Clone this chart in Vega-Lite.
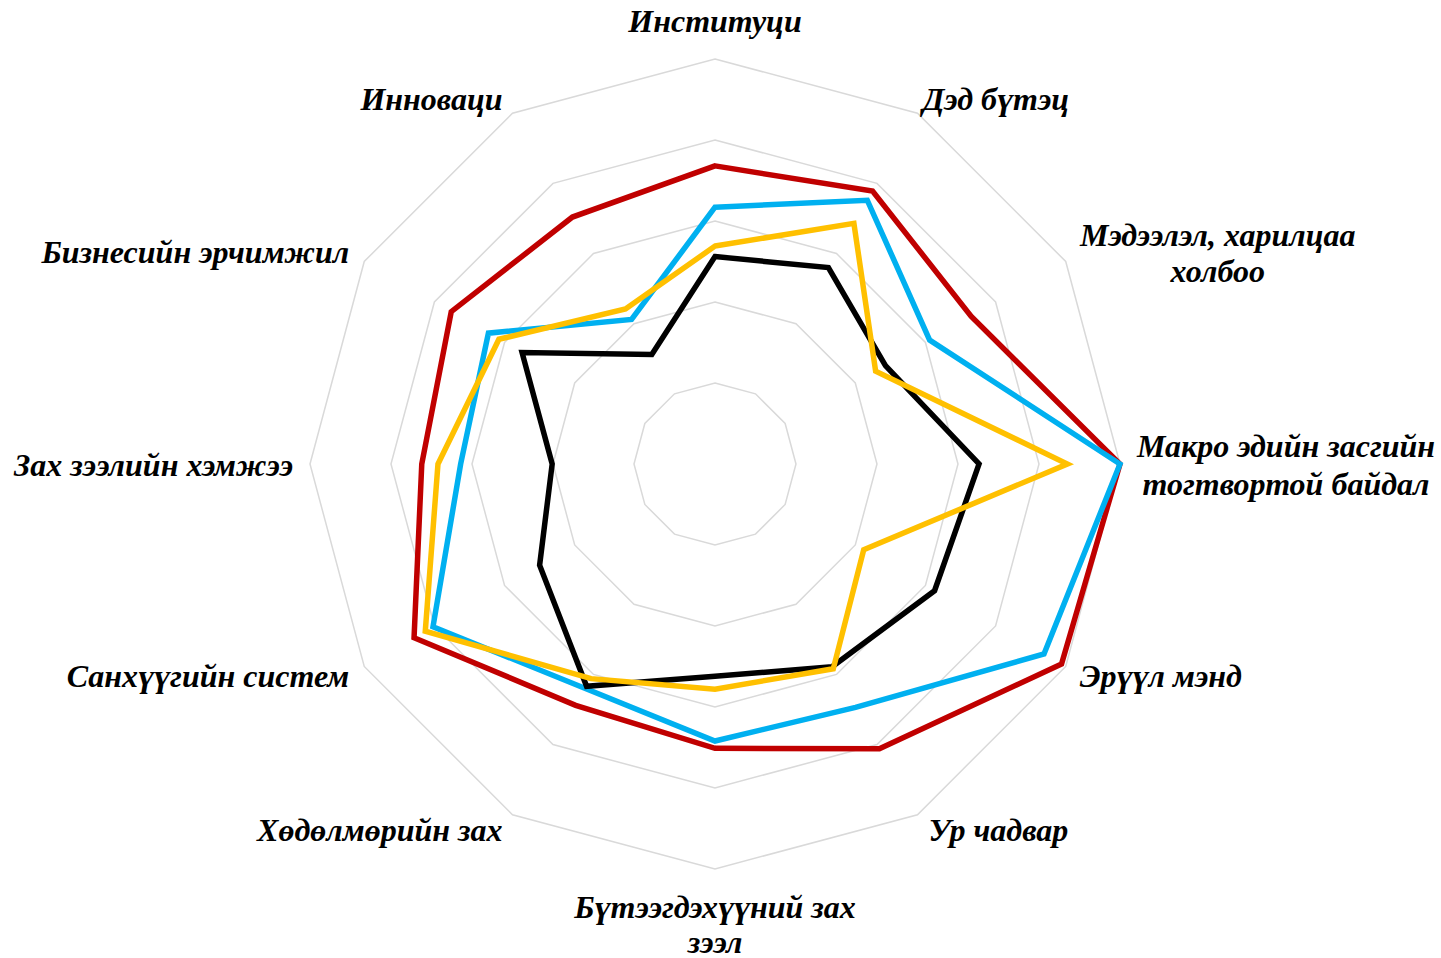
{
  "$schema": "https://vega.github.io/schema/vega-lite/v6.json",
  "width": 1441,
  "height": 958,
  "autosize": "none",
  "padding": 0,
  "background": "white",
  "config": {"view": {"stroke": null}},
  "datasets": {
    "axes": [
      {"k": 0, "name": "Институци", "label": ["Институци"], "rings": [1, 2, 3, 4, 5]},
      {"k": 1, "name": "Дэд бүтэц", "label": ["Дэд бүтэц"], "rings": [1, 2, 3, 4, 5]},
      {"k": 2, "name": "Мэдээлэл, харилцаа холбоо", "label": ["Мэдээлэл, харилцаа", "холбоо"], "rings": [1, 2, 3, 4, 5]},
      {"k": 3, "name": "Макро эдийн засгийн тогтвортой байдал", "label": ["Макро эдийн засгийн", "тогтвортой байдал"], "rings": [1, 2, 3, 4, 5]},
      {"k": 4, "name": "Эрүүл мэнд", "label": ["Эрүүл мэнд"], "rings": [1, 2, 3, 4, 5]},
      {"k": 5, "name": "Ур чадвар", "label": ["Ур чадвар"], "rings": [1, 2, 3, 4, 5]},
      {"k": 6, "name": "Бүтээгдэхүүний зах зээл", "label": ["Бүтээгдэхүүний зах", "зээл"], "rings": [1, 2, 3, 4, 5]},
      {"k": 7, "name": "Хөдөлмөрийн зах", "label": ["Хөдөлмөрийн зах"], "rings": [1, 2, 3, 4, 5]},
      {"k": 8, "name": "Санхүүгийн систем", "label": ["Санхүүгийн систем"], "rings": [1, 2, 3, 4, 5]},
      {"k": 9, "name": "Зах зээлийн хэмжээ", "label": ["Зах зээлийн хэмжээ"], "rings": [1, 2, 3, 4, 5]},
      {"k": 10, "name": "Бизнесийн эрчимжил", "label": ["Бизнесийн эрчимжил"], "rings": [1, 2, 3, 4, 5]},
      {"k": 11, "name": "Инноваци", "label": ["Инноваци"], "rings": [1, 2, 3, 4, 5]}
    ],
    "scores": [
      {"series": "Цуврал 1", "k": 0, "value": 3.68},
      {"series": "Цуврал 1", "k": 1, "value": 3.89},
      {"series": "Цуврал 1", "k": 2, "value": 3.65},
      {"series": "Цуврал 1", "k": 3, "value": 5.0},
      {"series": "Цуврал 1", "k": 4, "value": 4.94},
      {"series": "Цуврал 1", "k": 5, "value": 4.06},
      {"series": "Цуврал 1", "k": 6, "value": 3.51},
      {"series": "Цуврал 1", "k": 7, "value": 3.44},
      {"series": "Цуврал 1", "k": 8, "value": 4.29},
      {"series": "Цуврал 1", "k": 9, "value": 3.62},
      {"series": "Цуврал 1", "k": 10, "value": 3.76},
      {"series": "Цуврал 1", "k": 11, "value": 3.52},
      {"series": "Цуврал 2", "k": 0, "value": 3.17},
      {"series": "Цуврал 2", "k": 1, "value": 3.76},
      {"series": "Цуврал 2", "k": 2, "value": 3.06},
      {"series": "Цуврал 2", "k": 3, "value": 5.0},
      {"series": "Цуврал 2", "k": 4, "value": 4.69},
      {"series": "Цуврал 2", "k": 5, "value": 3.47},
      {"series": "Цуврал 2", "k": 6, "value": 3.42},
      {"series": "Цуврал 2", "k": 7, "value": 3.2},
      {"series": "Цуврал 2", "k": 8, "value": 4.02},
      {"series": "Цуврал 2", "k": 9, "value": 3.14},
      {"series": "Цуврал 2", "k": 10, "value": 3.23},
      {"series": "Цуврал 2", "k": 11, "value": 2.06},
      {"series": "Цуврал 3", "k": 0, "value": 2.56},
      {"series": "Цуврал 3", "k": 1, "value": 2.8},
      {"series": "Цуврал 3", "k": 2, "value": 2.43},
      {"series": "Цуврал 3", "k": 3, "value": 3.26},
      {"series": "Цуврал 3", "k": 4, "value": 3.13},
      {"series": "Цуврал 3", "k": 5, "value": 2.89},
      {"series": "Цуврал 3", "k": 6, "value": 2.62},
      {"series": "Цуврал 3", "k": 7, "value": 3.17},
      {"series": "Цуврал 3", "k": 8, "value": 2.5},
      {"series": "Цуврал 3", "k": 9, "value": 2.01},
      {"series": "Цуврал 3", "k": 10, "value": 2.75},
      {"series": "Цуврал 3", "k": 11, "value": 1.56},
      {"series": "Цуврал 4", "k": 0, "value": 2.69},
      {"series": "Цуврал 4", "k": 1, "value": 3.43},
      {"series": "Цуврал 4", "k": 2, "value": 2.29},
      {"series": "Цуврал 4", "k": 3, "value": 4.35},
      {"series": "Цуврал 4", "k": 4, "value": 2.12},
      {"series": "Цуврал 4", "k": 5, "value": 2.92},
      {"series": "Цуврал 4", "k": 6, "value": 2.78},
      {"series": "Цуврал 4", "k": 7, "value": 3.06},
      {"series": "Цуврал 4", "k": 8, "value": 4.13},
      {"series": "Цуврал 4", "k": 9, "value": 3.42},
      {"series": "Цуврал 4", "k": 10, "value": 3.08},
      {"series": "Цуврал 4", "k": 11, "value": 2.21}
    ]
  },
  "layer": [
    {
      "data": {"name": "axes"},
      "transform": [
        {"flatten": ["rings"], "as": ["ring"]},
        {"calculate": "datum.k * PI / 6", "as": "ang"},
        {"calculate": "datum.ring * sin(datum.ang)", "as": "px"},
        {"calculate": "datum.ring * cos(datum.ang)", "as": "py"}
      ],
      "mark": {"type": "line", "interpolate": "linear-closed", "stroke": "#D9D9D9", "strokeWidth": 1.5},
      "encoding": {
        "x": {"field": "px", "type": "quantitative", "scale": {"domain": [-8.827, 8.963], "nice": false, "zero": false}, "axis": null},
        "y": {"field": "py", "type": "quantitative", "scale": {"domain": [-6.099, 5.728], "nice": false, "zero": false}, "axis": null},
        "detail": {"field": "ring", "type": "nominal"},
        "order": {"field": "k", "type": "quantitative"}
      }
    },
    {
      "data": {"name": "scores"},
      "transform": [
        {"calculate": "datum.k * PI / 6", "as": "ang"},
        {"calculate": "datum.value * sin(datum.ang)", "as": "px"},
        {"calculate": "datum.value * cos(datum.ang)", "as": "py"}
      ],
      "encoding": {
        "x": {"field": "px", "type": "quantitative", "scale": {"domain": [-8.827, 8.963], "nice": false, "zero": false}, "axis": null},
        "y": {"field": "py", "type": "quantitative", "scale": {"domain": [-6.099, 5.728], "nice": false, "zero": false}, "axis": null},
        "order": {"field": "k", "type": "quantitative"}
      },
      "layer": [
        {"transform": [{"filter": "datum.series === 'Цуврал 1'"}], "mark": {"type": "line", "interpolate": "linear-closed", "stroke": "#C00000", "strokeWidth": 5.5, "strokeJoin": "miter"}},
        {"transform": [{"filter": "datum.series === 'Цуврал 2'"}], "mark": {"type": "line", "interpolate": "linear-closed", "stroke": "#00B0F0", "strokeWidth": 5.5, "strokeJoin": "miter"}},
        {"transform": [{"filter": "datum.series === 'Цуврал 3'"}], "mark": {"type": "line", "interpolate": "linear-closed", "stroke": "#000000", "strokeWidth": 5.5, "strokeJoin": "miter"}},
        {"transform": [{"filter": "datum.series === 'Цуврал 4'"}], "mark": {"type": "line", "interpolate": "linear-closed", "stroke": "#FFC000", "strokeWidth": 5.5, "strokeJoin": "miter"}}
      ]
    },
    {
      "data": {"name": "axes"},
      "transform": [
        {"calculate": "datum.k * PI / 6", "as": "ang"},
        {"calculate": "5 * sin(datum.ang)", "as": "px"},
        {"calculate": "5 * cos(datum.ang)", "as": "py"}
      ],
      "encoding": {
        "x": {"field": "px", "type": "quantitative", "scale": {"domain": [-8.827, 8.963], "nice": false, "zero": false}, "axis": null},
        "y": {"field": "py", "type": "quantitative", "scale": {"domain": [-6.099, 5.728], "nice": false, "zero": false}, "axis": null},
        "text": {"field": "label"}
      },
      "layer": [
        {"transform": [{"filter": "datum.k === 0"}], "mark": {"type": "text", "align": "center", "baseline": "middle", "dx": 0, "dy": -37, "font": "Liberation Serif", "fontSize": 32, "fontWeight": "bold", "fontStyle": "italic", "lineHeight": 36, "color": "#000000"}},
        {"transform": [{"filter": "datum.k === 1"}], "mark": {"type": "text", "align": "left", "baseline": "middle", "dx": 5, "dy": -13, "font": "Liberation Serif", "fontSize": 32, "fontWeight": "bold", "fontStyle": "italic", "lineHeight": 36, "color": "#000000"}},
        {"transform": [{"filter": "datum.k === 2"}], "mark": {"type": "text", "align": "center", "baseline": "middle", "dx": 152, "dy": -25, "font": "Liberation Serif", "fontSize": 32, "fontWeight": "bold", "fontStyle": "italic", "lineHeight": 36, "color": "#000000"}},
        {"transform": [{"filter": "datum.k === 3"}], "mark": {"type": "text", "align": "center", "baseline": "middle", "dx": 166, "dy": -17, "font": "Liberation Serif", "fontSize": 32, "fontWeight": "bold", "fontStyle": "italic", "lineHeight": 38, "color": "#000000"}},
        {"transform": [{"filter": "datum.k === 4"}], "mark": {"type": "text", "align": "left", "baseline": "middle", "dx": 14, "dy": 11, "font": "Liberation Serif", "fontSize": 32, "fontWeight": "bold", "fontStyle": "italic", "lineHeight": 36, "color": "#000000"}},
        {"transform": [{"filter": "datum.k === 5"}], "mark": {"type": "text", "align": "left", "baseline": "middle", "dx": 11, "dy": 16, "font": "Liberation Serif", "fontSize": 32, "fontWeight": "bold", "fontStyle": "italic", "lineHeight": 36, "color": "#000000"}},
        {"transform": [{"filter": "datum.k === 6"}], "mark": {"type": "text", "align": "center", "baseline": "middle", "dx": 0, "dy": 39, "font": "Liberation Serif", "fontSize": 32, "fontWeight": "bold", "fontStyle": "italic", "lineHeight": 35, "color": "#000000"}},
        {"transform": [{"filter": "datum.k === 7"}], "mark": {"type": "text", "align": "right", "baseline": "middle", "dx": -10, "dy": 16, "font": "Liberation Serif", "fontSize": 32, "fontWeight": "bold", "fontStyle": "italic", "lineHeight": 36, "color": "#000000"}},
        {"transform": [{"filter": "datum.k === 8"}], "mark": {"type": "text", "align": "right", "baseline": "middle", "dx": -15, "dy": 11, "font": "Liberation Serif", "fontSize": 32, "fontWeight": "bold", "fontStyle": "italic", "lineHeight": 36, "color": "#000000"}},
        {"transform": [{"filter": "datum.k === 9"}], "mark": {"type": "text", "align": "right", "baseline": "middle", "dx": -17, "dy": 2, "font": "Liberation Serif", "fontSize": 32, "fontWeight": "bold", "fontStyle": "italic", "lineHeight": 36, "color": "#000000"}},
        {"transform": [{"filter": "datum.k === 10"}], "mark": {"type": "text", "align": "right", "baseline": "middle", "dx": -15, "dy": -8, "font": "Liberation Serif", "fontSize": 32, "fontWeight": "bold", "fontStyle": "italic", "lineHeight": 36, "color": "#000000"}},
        {"transform": [{"filter": "datum.k === 11"}], "mark": {"type": "text", "align": "right", "baseline": "middle", "dx": -10, "dy": -13, "font": "Liberation Serif", "fontSize": 32, "fontWeight": "bold", "fontStyle": "italic", "lineHeight": 36, "color": "#000000"}}
      ]
    }
  ]
}
